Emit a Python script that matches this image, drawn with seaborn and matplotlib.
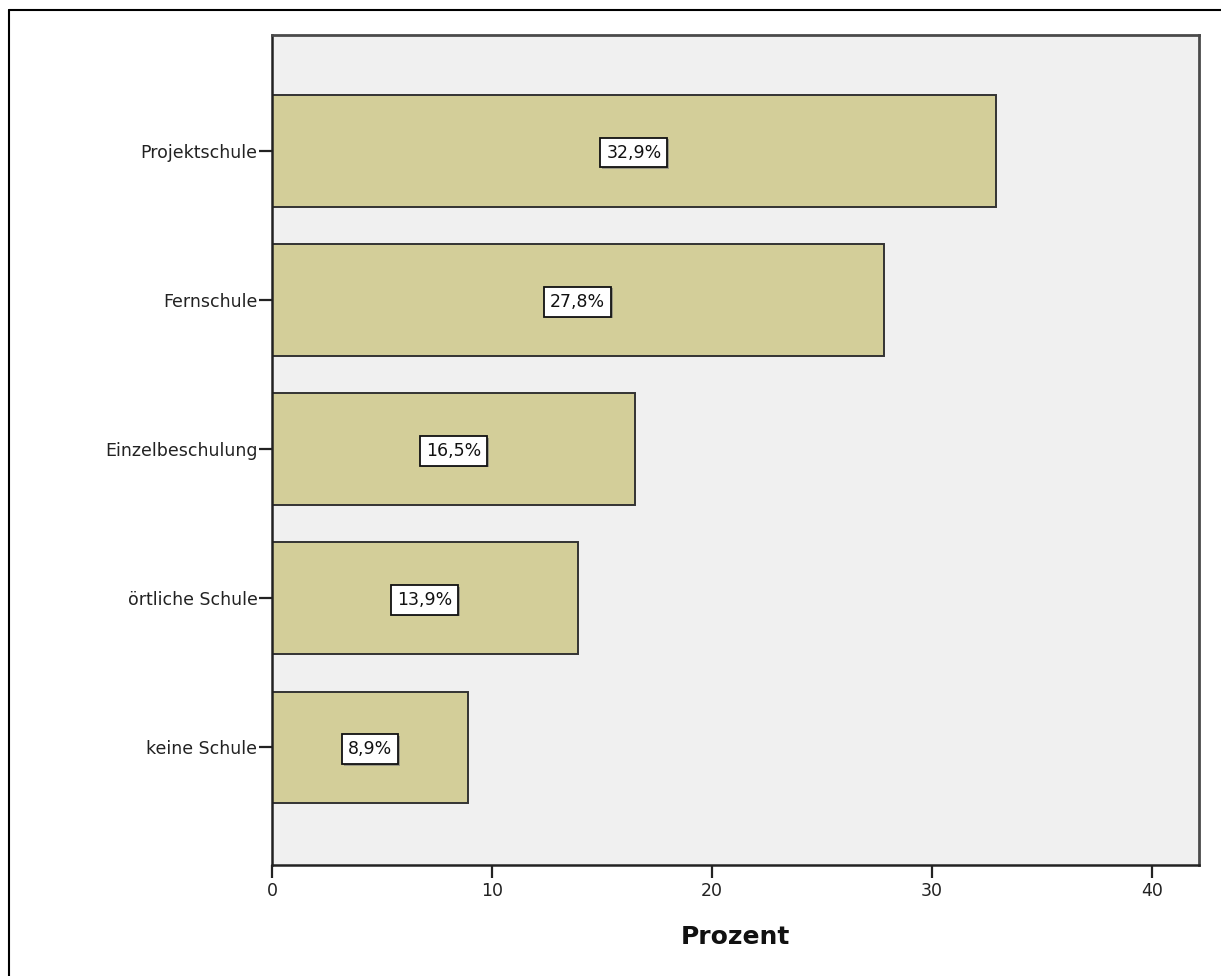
import matplotlib
matplotlib.use("Agg")
import matplotlib.pyplot as plt
import matplotlib.patheffects as pe
import seaborn as sns
import pandas as pd
from matplotlib.lines import Line2D

categories = ["Projektschule", "Fernschule", "Einzelbeschulung", "örtliche Schule", "keine Schule"]
values = [32.9, 27.8, 16.5, 13.9, 8.9]
x_ticks = [0, 10, 20, 30, 40]

df = pd.DataFrame({"Schulart": categories, "Prozent": values})

sns.set_theme(style="white")
plt.rcParams["font.family"] = ["DejaVu Sans"]

fig = plt.figure(figsize=(12.21, 9.76), dpi=100)
ax = fig.add_axes([272 / 1221, 1 - 865 / 976, (1199 - 272) / 1221, (865 - 35) / 976])
ax.set_facecolor("#F0F0F0")

sns.barplot(data=df, x="Prozent", y="Schulart", orient="h", order=categories,
            color="#D3CE99", saturation=1, width=0.75,
            edgecolor="#333333", linewidth=1.4, ax=ax)

for i, v in enumerate(values):
    t = ax.text(v / 2, i + 0.01, f"{v:.1f}%".replace(".", ","), ha="center", va="center",
                fontsize=12.5, color="#111111",
                bbox=dict(boxstyle="square,pad=0.34", facecolor="white",
                          edgecolor="#111111", linewidth=1.3))
    t.get_bbox_patch().set_path_effects([
        pe.SimplePatchShadow(offset=(1.2, -1.2), shadow_rgbFace="#777777", alpha=0.6),
        pe.Normal()])

ax.set_xlim(0, 42.14)
ax.set_ylim(4.788, -0.778)
ax.set_xticks(x_ticks)
ax.set_xticklabels([str(t) for t in x_ticks])
ax.set_ylabel("")
ax.set_xlabel("Prozent", fontsize=18, fontweight="bold", color="#111111", labelpad=18)

ax.tick_params(axis="both", which="major", direction="out", length=9.5, width=1.6,
               color="#222222", labelsize=12.5, labelcolor="#222222", pad=1,
               left=True, bottom=True)
ax.tick_params(axis="x", pad=3)

for side in ["left", "bottom"]:
    ax.spines[side].set_color("#222222")
    ax.spines[side].set_linewidth(1.8)
for side in ["top", "right"]:
    ax.spines[side].set_color("#4a4a4a")
    ax.spines[side].set_linewidth(2.0)
    ax.spines[side].set_visible(True)

# outer frame (left and top only, as in the reference)
fig.add_artist(Line2D([8.5 / 1221, 8.5 / 1221], [0, 1 - 10 / 976], transform=fig.transFigure,
                      color="black", linewidth=1.5))
fig.add_artist(Line2D([8.5 / 1221, 1], [1 - 10 / 976, 1 - 10 / 976], transform=fig.transFigure,
                      color="black", linewidth=1.5))

fig.savefig("out.png", dpi=100, facecolor="white")
